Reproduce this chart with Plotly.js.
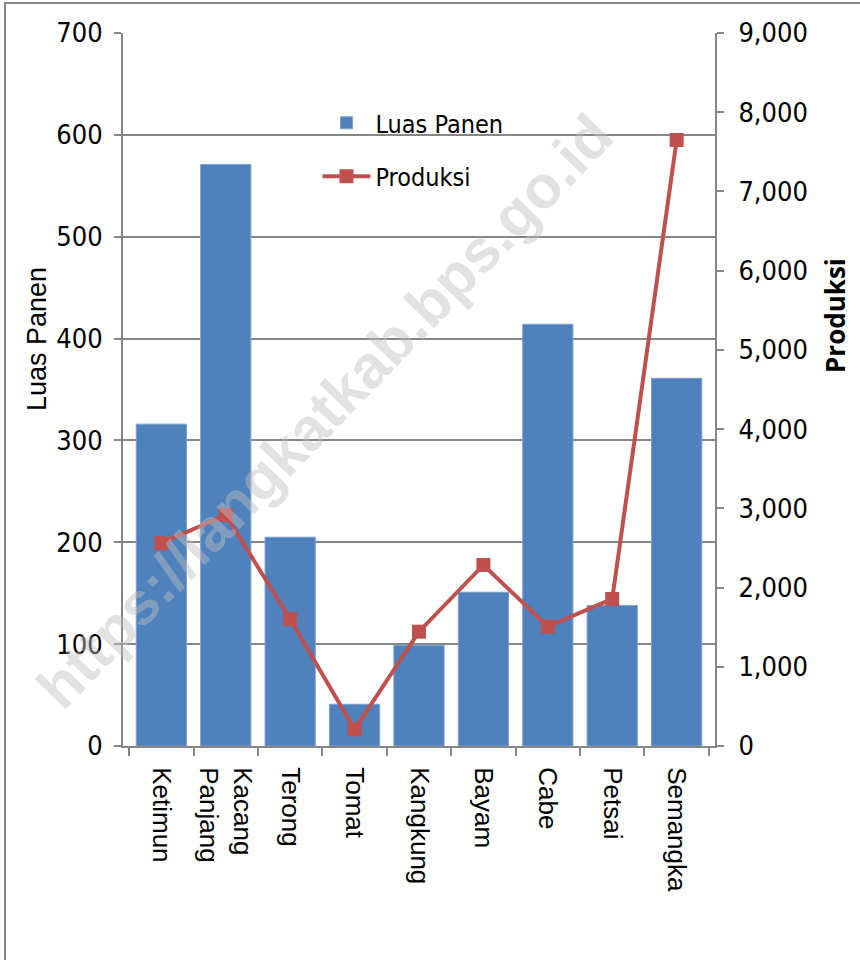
<!DOCTYPE html>
<html>
<head>
<meta charset="utf-8">
<script src="https://cdn.plot.ly/plotly-3.0.1.min.js"></script>
<style>
  html, body { margin: 0; padding: 0; background: #ffffff; }
  #chart { width: 860px; height: 960px; }
</style>
</head>
<body>
<div id="chart"></div>
<script>
const categories = ["Ketimun", "Kacang<br>Panjang", "Terong", "Tomat", "Kangkung", "Bayam", "Cabe", "Petsai", "Semangka"];
const luasPanen = [316, 571, 205, 41, 99, 151, 414, 138, 361];
const produksi = [2560, 2916, 1600, 210, 1443, 2285, 1506, 1856, 7650];
const leftTicks = [0, 100, 200, 300, 400, 500, 600, 700];
const rightTicks = [0, 1000, 2000, 3000, 4000, 5000, 6000, 7000, 8000, 9000];

const tickFont = { family: "Liberation Sans Narrow, DejaVu Sans Condensed, Open Sans, sans-serif", size: 27, color: "#000000" };
const gridGray = "#868686";

const traces = [
  {
    type: "bar",
    name: "Luas Panen",
    legendgroup: "luas",
    x: categories,
    y: luasPanen,
    marker: { color: "#4F81BD", line: { color: "#7EA1D0", width: 1 } },
    yaxis: "y"
  },
  {
    type: "scatter",
    mode: "lines+markers",
    name: "Produksi",
    legendgroup: "prod",
    x: categories,
    y: produksi,
    line: { color: "#C0504D", width: 4 },
    marker: { symbol: "square", size: 14, color: "#C0504D" },
    yaxis: "y2"
  }
];

const layout = {
  width: 860,
  height: 960,
  margin: { l: 123, r: 145, t: 33, b: 214 },
  paper_bgcolor: "#ffffff",
  plot_bgcolor: "#ffffff",
  bargap: 0.22,
  showlegend: true,
  legend: {
    x: 0.3285, y: 0.906, xanchor: "left", yanchor: "top",
    bgcolor: "rgba(0,0,0,0)",
    font: { family: tickFont.family, size: 25, color: "#000000" },
    itemwidth: 48,
    tracegroupgap: 18
  },
  xaxis: {
    type: "category",
    tickangle: 90,
    tickfont: { family: "Liberation Sans, Arial, sans-serif", size: 26, color: "#000000" },
    showline: true, linecolor: gridGray, linewidth: 2,
    ticks: "outside", ticklen: 8, tickcolor: gridGray, tickwidth: 2,
    tickson: "boundaries",
    ticklabelstandoff: 14,
    showgrid: false, zeroline: false,
    fixedrange: true
  },
  yaxis: {
    range: [0, 700],
    tickvals: leftTicks,
    ticktext: leftTicks.map(String),
    tickfont: tickFont,
    showline: true, linecolor: gridGray, linewidth: 2,
    ticks: "outside", ticklen: 7, tickcolor: gridGray, tickwidth: 2,
    ticklabelstandoff: 6,
    showgrid: true, gridcolor: gridGray, gridwidth: 2,
    zeroline: false
  },
  yaxis2: {
    overlaying: "y",
    side: "right",
    range: [0, 9000],
    tickvals: rightTicks,
    tickformat: ",",
    tickfont: tickFont,
    showline: true, linecolor: gridGray, linewidth: 2,
    ticks: "outside", ticklen: 7, tickcolor: gridGray, tickwidth: 2,
    ticklabelstandoff: 9,
    showgrid: false, zeroline: false
  },
  shapes: [
    {
      type: "rect", xref: "paper", yref: "paper",
      x0: (5 - 123) / 592, x1: (880 - 123) / 592,
      y0: -(990 - 746) / 713, y1: 1 + (33 - 3) / 713,
      line: { color: gridGray, width: 2 },
      fillcolor: "rgba(0,0,0,0)",
      layer: "below"
    }
  ],
  annotations: [
    {
      text: "Luas Panen",
      xref: "paper", yref: "paper",
      x: (37 - 123) / 592, y: 1 - (339 - 33) / 713,
      xanchor: "center", yanchor: "middle",
      textangle: -90, showarrow: false,
      font: { family: "Liberation Sans, Arial, sans-serif", size: 27, color: "#000000" }
    },
    {
      text: "<b>Produksi</b>",
      xref: "paper", yref: "paper",
      x: (835 - 123) / 592, y: 1 - (316 - 33) / 713,
      xanchor: "center", yanchor: "middle",
      textangle: -90, showarrow: false,
      font: { family: "Open Sans, Noto Sans, sans-serif", size: 26, color: "#000000" }
    },
    {
      text: "<b>https://langkatkab.bps.go.id</b>",
      xref: "paper", yref: "paper",
      x: (325 - 123) / 592, y: 1 - (412 - 33) / 713,
      xanchor: "center", yanchor: "middle",
      textangle: -46, showarrow: false,
      font: { family: "Liberation Sans, Arial, sans-serif", size: 60, color: "rgba(190,190,190,0.45)" }
    }
  ]
};

Plotly.newPlot("chart", traces, layout, { displayModeBar: false, staticPlot: true });
</script>
</body>
</html>
